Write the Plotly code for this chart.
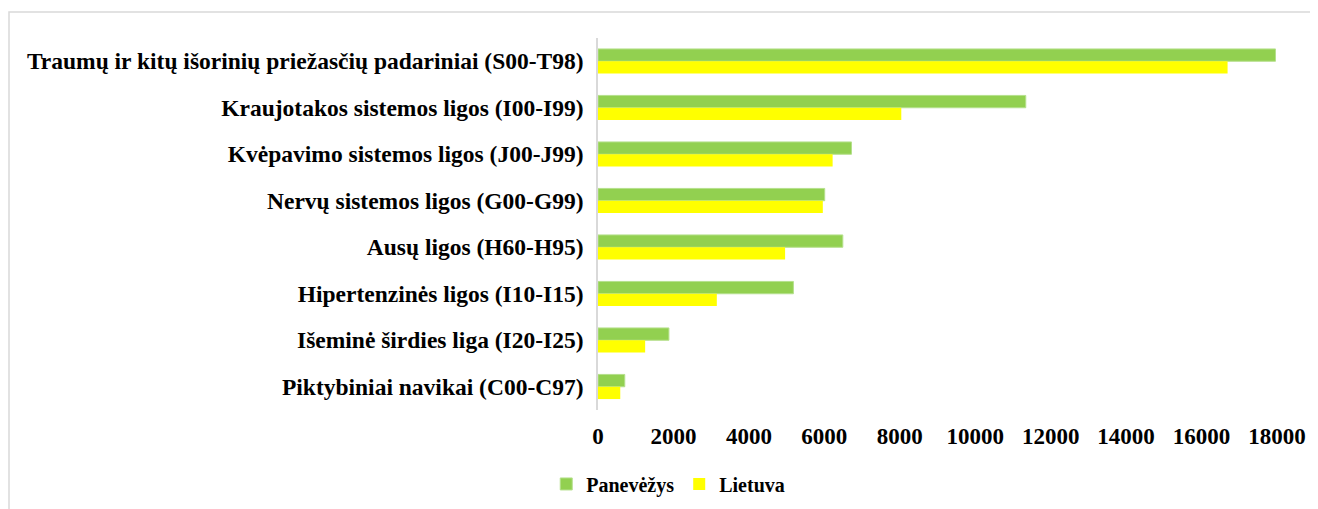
import plotly.graph_objects as go

categories = [
    "Traumų ir kitų išorinių priežasčių padariniai (S00-T98)",
    "Kraujotakos sistemos ligos (I00-I99)",
    "Kvėpavimo sistemos ligos (J00-J99)",
    "Nervų sistemos ligos (G00-G99)",
    "Ausų ligos (H60-H95)",
    "Hipertenzinės ligos (I10-I15)",
    "Išeminė širdies liga (I20-I25)",
    "Piktybiniai navikai (C00-C97)",
]
panevezys = [17960, 11340, 6720, 6010, 6490, 5180, 1880, 710]
lietuva = [16690, 8040, 6220, 5960, 4960, 3150, 1250, 590]
tick_vals = [0, 2000, 4000, 6000, 8000, 10000, 12000, 14000, 16000, 18000]
tick_text = [str(v) for v in tick_vals]

FONT = "Liberation Serif"

fig = go.Figure()
fig.add_trace(go.Bar(
    name="Panevėžys", y=categories, x=panevezys, orientation="h",
    marker=dict(color="#92D050", line=dict(color="#B5E08C", width=1)),
))
fig.add_trace(go.Bar(
    name="Lietuva", y=categories, x=lietuva, orientation="h",
    marker=dict(color="#FFFF00", line=dict(width=0)),
))

W, H = 1310, 501
L, R, T, B = 590, 41, 30, 99
PW = W - L - R
PH = H - T - B

fig.update_layout(
    width=W, height=H,
    margin=dict(l=L, r=R, t=T, b=B),
    paper_bgcolor="white", plot_bgcolor="white",
    barmode="group", bargap=0.47, bargroupgap=0,
    font=dict(family=FONT, color="black", size=23),
    showlegend=True,
    legend=dict(
        orientation="h", xref="container", yref="container",
        x=0.504, y=0.05, xanchor="center", yanchor="middle",
        font=dict(family=FONT, size=20, color="black", weight="bold"),
        itemwidth=30, tracegroupgap=0,
    ),
    shapes=[dict(
        type="rect", xref="paper", yref="paper",
        x0=(1 - L) / PW, x1=1.2, y0=-0.5, y1=1 + (T - 4) / PH,
        line=dict(color="#D9D9D9", width=1.5), fillcolor="rgba(0,0,0,0)",
        layer="below",
    )],
)

fig.update_xaxes(
    range=[0, 18000], tickvals=tick_vals, ticktext=tick_text,
    showgrid=False, zeroline=False,
    showline=False, ticks="", ticklabelstandoff=10,
    tickfont=dict(family=FONT, size=23, color="black", weight="bold"),
)
fig.update_yaxes(
    autorange="reversed", showgrid=False, zeroline=False,
    showline=True, linecolor="#D9D9D9", linewidth=1.5, ticks="",
    ticklabelstandoff=8,
    tickfont=dict(family=FONT, size=23.5, color="black", weight="bold"),
)

fig.write_html("out.html")
